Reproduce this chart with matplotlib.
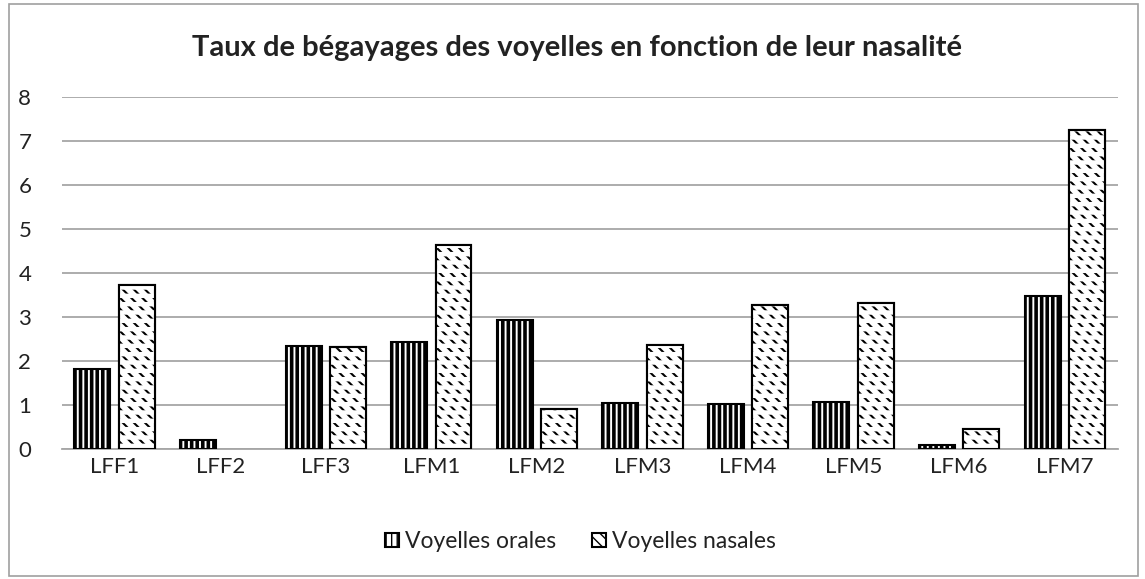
import numpy as np
import matplotlib.pyplot as plt
from matplotlib.patches import Rectangle

plt.rcParams['font.family'] = ['Lato', 'DejaVu Sans']
plt.rcParams['hatch.color'] = 'black'

locuteurs = ['LFF1', 'LFF2', 'LFF3', 'LFM1', 'LFM2', 'LFM3', 'LFM4', 'LFM5', 'LFM6', 'LFM7']
orales = [1.82, 0.20, 2.34, 2.43, 2.93, 1.05, 1.03, 1.07, 0.10, 3.48]
nasales = [3.73, 0.0, 2.32, 4.64, 0.91, 2.37, 3.28, 3.32, 0.45, 7.24]

fig = plt.figure(figsize=(11.45, 5.79), dpi=100)
ax = fig.add_axes([0.054, 0.2245, 0.922, 0.608])

# grey frame round the whole chart
fig.patches.append(Rectangle((0.008, 0.006), 0.986, 0.987, transform=fig.transFigure,
                             fill=False, edgecolor='#a0a0a0', linewidth=1.2))

x = np.arange(len(locuteurs))
w = 0.34

b1 = ax.bar(x - 0.21, orales, w, color='white', edgecolor='black', linewidth=1.5,
            hatch='|||', label='Voyelles orales', zorder=3)
b2 = ax.bar(x + 0.21, nasales, w, color='white', edgecolor='black', linewidth=1.5,
            hatch='\\\\\\', label='Voyelles nasales', zorder=3)
# white horizontal bands cut the diagonals into short dashes
cut = ax.bar(x + 0.21, nasales, w, color='none', edgecolor='white', linewidth=0,
             hatch='--', zorder=3.5)
# redraw the outlines on top
ax.bar(x + 0.21, nasales, w, color='none', edgecolor='black', linewidth=1.5, zorder=4)
for b in b1:
    b._hatch_linewidth = 2.6
for b in b2:
    b._hatch_linewidth = 1.5
for b in cut:
    b._hatch_linewidth = 3.2
for c in ax.containers[1:]:
    for b in c:
        if b.get_height() == 0:
            b.set_visible(False)

ax.set_xlim(-0.5, len(locuteurs) - 0.5)
ax.set_ylim(0, 8)
ax.set_yticks(range(0, 9))
ax.set_xticks(x)
ax.set_xticklabels(locuteurs)
ax.tick_params(length=0, labelsize=16, colors='#222222', pad=6)
ax.tick_params(axis='y', pad=22)
ax.grid(axis='y', color='#a6a6a6', linewidth=1.3, zorder=0)
for s in ['top', 'right', 'left']:
    ax.spines[s].set_visible(False)
ax.spines['bottom'].set_color('#a6a6a6')
ax.spines['bottom'].set_linewidth(1.3)

fig.text(0.504, 0.917, 'Taux de bégayages des voyelles en fonction de leur nasalité',
         ha='center', va='center', fontsize=21, fontweight='bold', color='#222222')

fig.legend(handles=[b1, b2], loc='center', bbox_to_anchor=(0.507, 0.065), ncol=2,
           frameon=False, fontsize=16.5, handlelength=0.6, handleheight=0.6,
           handletextpad=0.25, columnspacing=1.6, labelcolor='#222222')

fig.savefig('out.png', dpi=100)
